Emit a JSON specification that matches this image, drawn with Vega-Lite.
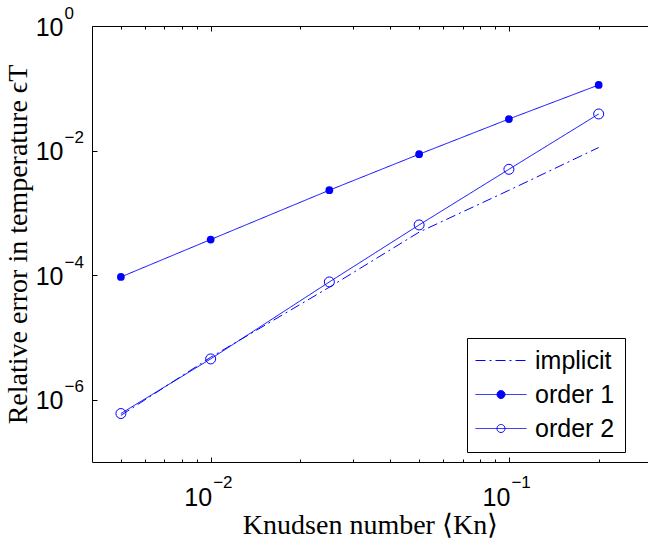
{
  "$schema": "https://vega.github.io/schema/vega-lite/v6.json",
  "width": 556,
  "height": 436,
  "autosize": "none",
  "padding": {"left": 92, "top": 26, "right": 0, "bottom": 81},
  "background": "white",
  "config": {
    "view": {"stroke": null},
    "axis": {"grid": false, "domainColor": "black", "tickColor": "black", "labelColor": "black", "titleColor": "black", "domainWidth": 1, "tickWidth": 1}
  },
  "data": {
    "values": [
      {"series": "implicit", "kn": 0.005, "err": 5.6e-7},
      {"series": "implicit", "kn": 0.01, "err": 4.8e-6},
      {"series": "implicit", "kn": 0.025, "err": 6.4e-5},
      {"series": "implicit", "kn": 0.05, "err": 4.9e-4},
      {"series": "implicit", "kn": 0.1, "err": 2.3e-3},
      {"series": "implicit", "kn": 0.2, "err": 1.12e-2},
      {"series": "order 1", "kn": 0.005, "err": 9.35e-5},
      {"series": "order 1", "kn": 0.01, "err": 3.73e-4},
      {"series": "order 1", "kn": 0.025, "err": 2.31e-3},
      {"series": "order 1", "kn": 0.05, "err": 8.73e-3},
      {"series": "order 1", "kn": 0.1, "err": 0.0321},
      {"series": "order 1", "kn": 0.2, "err": 0.113},
      {"series": "order 2", "kn": 0.005, "err": 6.0e-7},
      {"series": "order 2", "kn": 0.01, "err": 4.52e-6},
      {"series": "order 2", "kn": 0.025, "err": 7.78e-5},
      {"series": "order 2", "kn": 0.05, "err": 6.4e-4},
      {"series": "order 2", "kn": 0.1, "err": 5.0e-3},
      {"series": "order 2", "kn": 0.2, "err": 0.0387}
    ]
  },
  "resolve": {"axis": {"x": "independent", "y": "independent"}},
  "layer": [
    {
      "mark": {"type": "line", "color": "#0000ff", "strokeWidth": 1, "clip": true},
      "encoding": {
        "x": {"field": "kn", "type": "quantitative", "scale": {"type": "log", "domain": [0.004, 0.2927], "nice": false},
          "axis": {"orient": "bottom", "values": [0.01, 0.1], "labelExpr": "'10'", "labelAlign": "right", "labelBaseline": "alphabetic", "labelFont": "Liberation Sans", "labelFontSize": 25, "labelPadding": 48, "labelOffset": 1, "tickSize": -5, "labelFlush": false, "labelOverlap": false,
            "title": "Knudsen number ⟨Kn⟩", "titleFont": "Liberation Serif", "titleFontSize": 28, "titleFontWeight": "normal", "titlePadding": 1}},
        "y": {"field": "err", "type": "quantitative", "scale": {"type": "log", "domain": [1e-7, 1], "nice": false},
          "axis": {"orient": "left", "values": [1, 0.01, 0.0001, 0.000001], "labelExpr": "'10'", "labelAlign": "right", "labelBaseline": "middle", "labelFont": "Liberation Sans", "labelFontSize": 25, "labelPadding": 34, "labelOffset": 1, "tickSize": -5, "labelFlush": false, "labelOverlap": false,
            "title": "Relative error in temperature  ϵT", "titleFont": "Liberation Serif", "titleFontSize": 28, "titleFontWeight": "normal", "titlePadding": 3}},
        "strokeDash": {"field": "series", "type": "nominal",
          "scale": {"domain": ["implicit", "order 1", "order 2"], "range": [[10, 4, 2, 4], [1, 0], [1, 0]]},
          "legend": {"orient": "none", "legendX": 375, "legendY": 312, "title": null, "padding": 10, "strokeColor": "black", "fillColor": "white", "cornerRadius": 0,
            "labelFont": "Liberation Sans", "labelFontSize": 25, "labelColor": "black", "labelOffset": 33, "labelBaseline": "middle",
            "symbolSize": 100, "symbolStrokeColor": "#0000ff", "symbolStrokeWidth": 1, "rowPadding": 8,
            "encode": {"symbols": {"update": {
              "shape": {"signal": "datum.value === 'implicit' ? 'M-2.8,0H7.4' : 'M-2.8,0H7.4M3.1,0A0.8,0.8,0,1,1,1.5,0A0.8,0.8,0,1,1,3.1,0Z'"},
              "fill": {"signal": "datum.value === 'order 1' ? '#0000ff' : '#ffffff'"},
              "fillOpacity": {"value": 1},
              "stroke": {"value": "#0000ff"},
              "opacity": {"value": 1}
            }}}}
        }
      }
    },
    {
      "transform": [{"filter": "datum.series === 'order 1'"}],
      "mark": {"type": "point", "shape": "circle", "filled": true, "color": "#0000ff", "size": 60, "opacity": 1},
      "encoding": {
        "x": {"field": "kn", "type": "quantitative", "scale": {"type": "log", "domain": [0.004, 0.2927], "nice": false},
          "axis": {"orient": "bottom", "values": [0.01, 0.1], "labelExpr": "'−' + round(-log(datum.value)/LN10)", "labelAlign": "left", "labelBaseline": "alphabetic", "labelFont": "Liberation Sans", "labelFontSize": 17, "labelPadding": 25, "labelOffset": 2, "ticks": false, "domain": false, "labelFlush": false, "labelOverlap": false, "title": null}},
        "y": {"field": "err", "type": "quantitative", "scale": {"type": "log", "domain": [1e-7, 1], "nice": false},
          "axis": {"orient": "left", "values": [1, 0.01, 0.0001, 0.000001], "labelExpr": "datum.value >= 0.5 ? '0' : '−' + round(-log(datum.value)/LN10)", "labelAlign": "left", "labelBaseline": "middle", "labelFont": "Liberation Sans", "labelFontSize": 17, "labelPadding": 28, "labelOffset": -13, "ticks": false, "domain": false, "labelFlush": false, "labelOverlap": false, "title": null}}
      }
    },
    {
      "transform": [{"filter": "datum.series === 'order 2'"}],
      "mark": {"type": "point", "shape": "circle", "filled": false, "color": "#0000ff", "size": 100, "strokeWidth": 1, "opacity": 1},
      "encoding": {
        "x": {"field": "kn", "type": "quantitative", "scale": {"type": "log", "domain": [0.004, 0.2927], "nice": false},
          "axis": {"orient": "bottom", "values": [0.005, 0.006, 0.007, 0.008, 0.009, 0.02, 0.03, 0.04, 0.05, 0.06, 0.07, 0.08, 0.09, 0.2], "labels": false, "tickSize": -3, "domain": false, "title": null}},
        "y": {"field": "err", "type": "quantitative", "scale": {"type": "log", "domain": [1e-7, 1], "nice": false}, "axis": null}
      }
    },
    {
      "transform": [{"filter": "datum.series === 'order 1'"}],
      "mark": {"type": "point", "opacity": 0},
      "encoding": {
        "x": {"field": "kn", "type": "quantitative", "scale": {"type": "log", "domain": [0.004, 0.2927], "nice": false},
          "axis": {"orient": "top", "values": [0.01, 0.1], "labels": false, "tickSize": -5, "domain": true, "title": null}},
        "y": {"field": "err", "type": "quantitative", "scale": {"type": "log", "domain": [1e-7, 1], "nice": false}, "axis": null}
      }
    },
    {
      "transform": [{"filter": "datum.series === 'order 1'"}],
      "mark": {"type": "point", "opacity": 0},
      "encoding": {
        "x": {"field": "kn", "type": "quantitative", "scale": {"type": "log", "domain": [0.004, 0.2927], "nice": false},
          "axis": {"orient": "top", "values": [0.005, 0.006, 0.007, 0.008, 0.009, 0.02, 0.03, 0.04, 0.05, 0.06, 0.07, 0.08, 0.09, 0.2], "labels": false, "tickSize": -3, "domain": false, "title": null}},
        "y": {"field": "err", "type": "quantitative", "scale": {"type": "log", "domain": [1e-7, 1], "nice": false}, "axis": null}
      }
    }
  ]
}
